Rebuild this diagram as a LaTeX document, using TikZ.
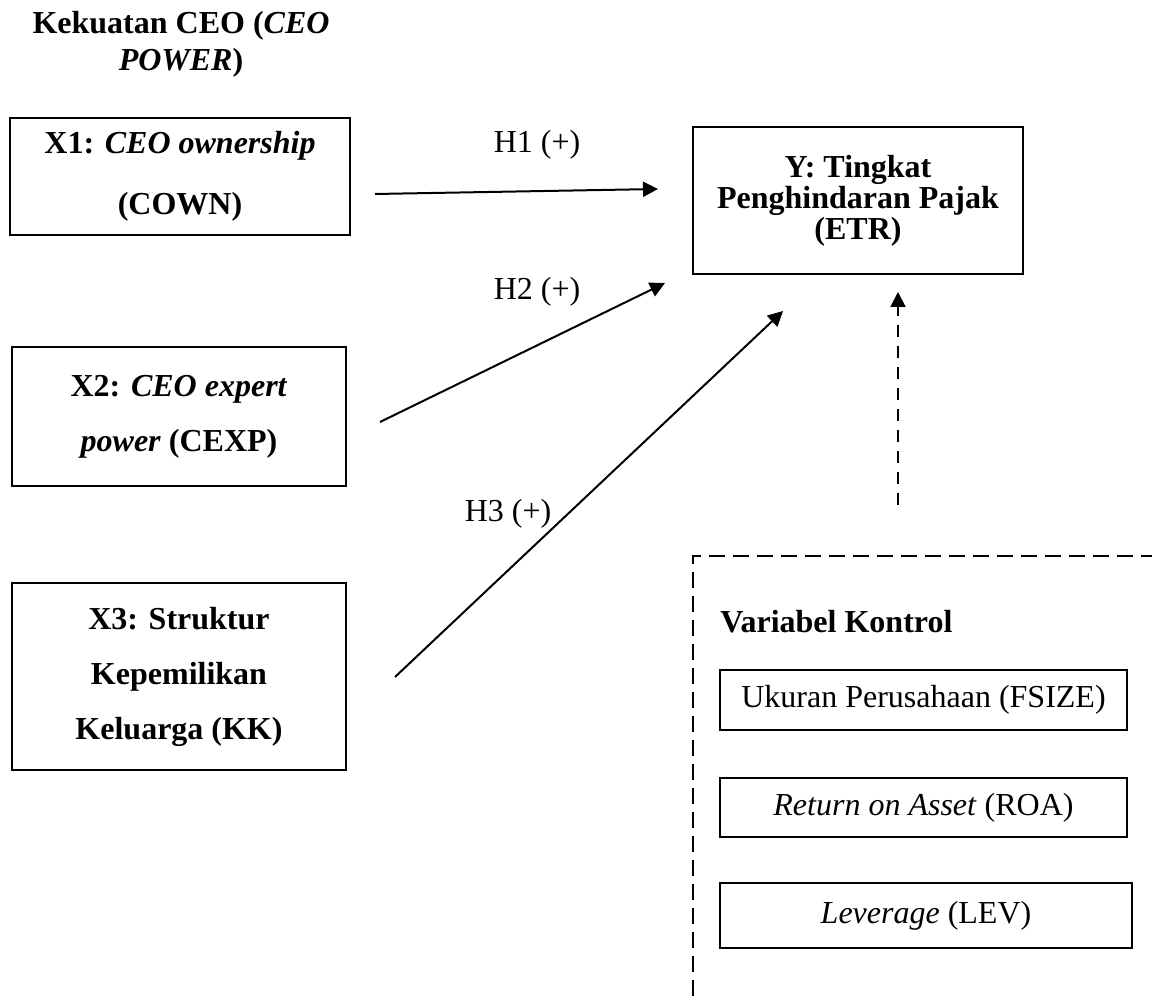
\documentclass[tikz,border=0pt]{standalone}
\usepackage{fontspec}
\setmainfont{Liberation Serif}
\usetikzlibrary{arrows.meta}
\begin{document}
\begin{tikzpicture}[x=0.5pt,y=-0.5pt,
  varbox/.style={draw,line width=1pt,align=center,inner sep=0pt},
  ctrlbox/.style={draw,line width=0.65pt,align=center,inner sep=0pt,
    font={\fontsize{16}{18.5}\selectfont}},
  hlabel/.style={anchor=base,inner sep=0pt,font={\fontsize{16}{18.5}\selectfont}},
  conn/.style={line width=1pt,-{Triangle[length=7.5pt,width=7.5pt]}},
  ctrlconn/.style={line width=1pt,dash pattern=on 6pt off 4.5pt,
    -{Triangle[length=7.5pt,width=7.5pt]}},
  ctrlframe/.style={line width=0.9pt,dash pattern=on 8pt off 4pt}
]
\useasboundingbox (0,0) rectangle (1152,999);

% title
\node[align=center,inner sep=0pt,font={\fontsize{16}{18.5}\selectfont\bfseries}] (title) at (181,44)
  {Kekuatan CEO (\textit{CEO}\\\textit{POWER})};

% independent variables
\node[varbox,minimum width=170pt,minimum height=58.5pt,
  font={\fontsize{16}{30.5}\selectfont\bfseries}] (x1) at (180,176.5)
  {X1: \textit{CEO ownership}\\(COWN)};
\node[varbox,minimum width=167pt,minimum height=69.5pt,
  font={\fontsize{16}{27.5}\selectfont\bfseries}] (x2) at (179,416.5)
  {X2: \textit{CEO expert}\\\textit{power} (CEXP)};
\node[varbox,minimum width=167pt,minimum height=93.5pt,
  font={\fontsize{16}{27.5}\selectfont\bfseries}] (x3) at (179,676.5)
  {X3: Struktur\\Kepemilikan\\Keluarga (KK)};

% dependent variable
\node[varbox,minimum width=165pt,minimum height=73.5pt,
  font={\fontsize{16}{15.5}\selectfont\bfseries}] (y) at (858,200.5)
  {Y: Tingkat\\Penghindaran Pajak\\(ETR)};

% control variables
\begin{scope}
  \clip (0,0) rectangle (1152,999);
  \draw[ctrlframe] (693,1020) -- (693,556) -- (1170,556);
\end{scope}
\node[anchor=base west,inner sep=0pt,font={\fontsize{16}{18.5}\selectfont\bfseries}] (ctrl) at (720,633)
  {Variabel Kontrol};
\node[ctrlbox,minimum width=203.5pt,minimum height=30pt] (fsize) at (923.5,700)
  {Ukuran Perusahaan (FSIZE)};
\node[ctrlbox,minimum width=203.5pt,minimum height=29.5pt] (roa) at (923.5,807.5)
  {\textit{Return on Asset} (ROA)};
\node[ctrlbox,minimum width=206pt,minimum height=32.5pt] (lev) at (926,915.5)
  {\textit{Leverage} (LEV)};

% connector end points
\coordinate (h1s) at (375,194);
\coordinate (h1e) at (658,189);
\coordinate (h2s) at (380,422);
\coordinate (h2e) at (665,283);
\coordinate (h3s) at (395,677);
\coordinate (h3e) at (783,311);
\coordinate (cs) at (898,505);
\coordinate (ce) at (898,292);

\draw[conn] (h1s) -- (h1e);
\draw[conn] (h2s) -- (h2e);
\draw[conn] (h3s) -- (h3e);
\draw[ctrlconn] (cs) -- (ce);

% labels
\node[hlabel] (l1) at (537,153) {H1 (+)};
\node[hlabel] (l2) at (537,300) {H2 (+)};
\node[hlabel] (l3) at (508,522) {H3 (+)};
\end{tikzpicture}
\end{document}
